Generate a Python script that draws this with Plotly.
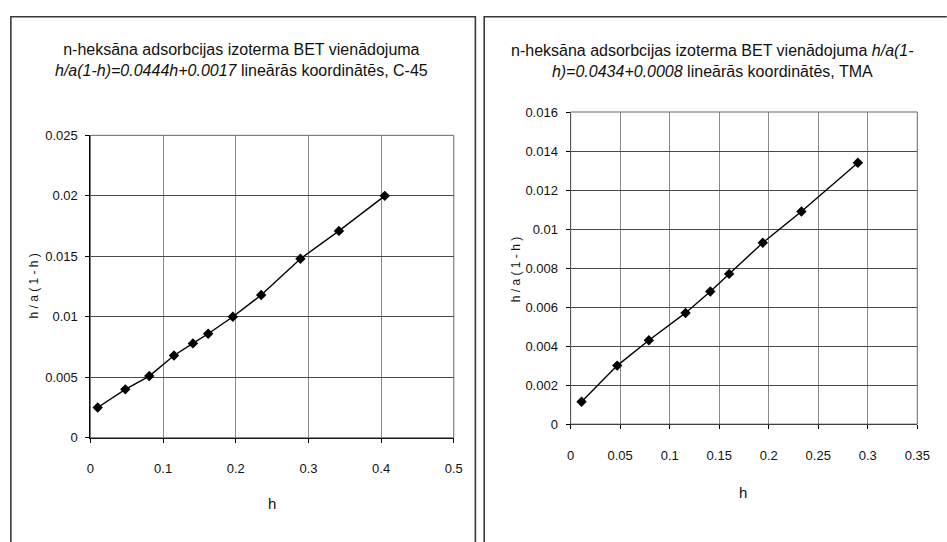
import plotly.graph_objects as go

# ---- data ----
left_h = [0.010, 0.048, 0.081, 0.115, 0.141, 0.162, 0.196, 0.235, 0.289, 0.342, 0.405]
left_y = [0.0025, 0.0040, 0.0051, 0.0068, 0.0078, 0.0086, 0.0100, 0.0118, 0.0148, 0.0171, 0.0200]

right_h = [0.011, 0.047, 0.079, 0.116, 0.141, 0.160, 0.194, 0.233, 0.290]
right_y = [0.00115, 0.0030, 0.0043, 0.0057, 0.0068, 0.0077, 0.0093, 0.0109, 0.0134]

left_title = ("n-heksāna adsorbcijas izoterma BET vienādojuma<br>"
              "<i>h/a(1-h)=0.0444h+0.0017</i> lineārās koordinātēs, C-45")
right_title = ("n-heksāna adsorbcijas izoterma BET vienādojuma <i>h/a(1-</i><br>"
               "<i>h)=0.0434+0.0008</i> lineārās koordinātēs, TMA")
x_label = "h"
y_label = "h / a ( 1 - h )"

W, H = 947, 542
FONT = "Liberation Sans, Arial, sans-serif"


def px(x):
    return x / W


def py(y):
    return 1 - y / H


fig = go.Figure()
fig.add_trace(go.Scatter(x=left_h, y=left_y, mode="lines+markers",
                         line=dict(color="black", width=1.4),
                         marker=dict(symbol="diamond", size=8, color="black"),
                         xaxis="x", yaxis="y", showlegend=False))
fig.add_trace(go.Scatter(x=right_h, y=right_y, mode="lines+markers",
                         line=dict(color="black", width=1.4),
                         marker=dict(symbol="diamond", size=8, color="black"),
                         xaxis="x2", yaxis="y2", showlegend=False))

ax_common = dict(showline=True, linecolor="black", linewidth=1.2, mirror=False,
                 ticks="outside", ticklen=4, tickcolor="black",
                 tickfont=dict(family=FONT, size=13, color="#111"),
                 zeroline=False, showgrid=True)

fig.update_layout(
    width=W, height=H,
    margin=dict(l=0, r=0, t=0, b=0),
    paper_bgcolor="white", plot_bgcolor="white",
    font=dict(family=FONT, color="#111"),
    xaxis=dict(domain=[px(88), px(458)], range=[0, 0.5], dtick=0.1, tick0=0,
               anchor="y", gridcolor="#8a8a8a", gridwidth=1,
               ticklabelstandoff=15, **ax_common),
    yaxis=dict(domain=[py(443), py(132)], range=[0, 0.025], dtick=0.005, tick0=0,
               anchor="x", gridcolor="#4a4a4a", gridwidth=1.3,
               ticklabelstandoff=5, **ax_common),
    xaxis2=dict(domain=[px(577), px(930)], range=[0, 0.35], dtick=0.05, tick0=0,
                anchor="y2", gridcolor="#8a8a8a", gridwidth=1,
                ticklabelstandoff=15, **ax_common),
    yaxis2=dict(domain=[py(429), py(108)], range=[0, 0.016], dtick=0.002, tick0=0,
                anchor="x2", gridcolor="#4a4a4a", gridwidth=1.3,
                ticklabelstandoff=5, **ax_common),
)


def path(points):
    return "M " + " L ".join(f"{px(x):.5f},{py(y):.5f}" for x, y in points)


shapes = [
    # panel frames (they run off the bottom / right of the picture)
    dict(type="path", xref="paper", yref="paper",
         path=path([(7, 560), (7, 10), (480, 10), (480, 560)]),
         line=dict(color="#3a3a3a", width=1.6)),
    dict(type="path", xref="paper", yref="paper",
         path=path([(489, 560), (489, 10), (960, 10)]),
         line=dict(color="#3a3a3a", width=1.6)),
    # plot area borders (top/right)
    dict(type="rect", xref="x domain", yref="y domain", x0=0, x1=1, y0=0, y1=1,
         line=dict(color="#666", width=1)),
    dict(type="rect", xref="x2 domain", yref="y2 domain", x0=0, x1=1, y0=0, y1=1,
         line=dict(color="#666", width=1)),
]
fig.update_layout(shapes=shapes)

common_ann = dict(xref="paper", yref="paper", showarrow=False,
                  xanchor="center", yanchor="middle")
ann = [
    dict(text=left_title, x=px(242), y=py(55), align="center",
         font=dict(family=FONT, size=16, color="#111"), **common_ann),
    dict(text=right_title, x=px(721), y=py(56), align="center",
         font=dict(family=FONT, size=16, color="#111"), **common_ann),
    dict(text=x_label, x=px(273), y=py(511),
         font=dict(family=FONT, size=15, color="#111"), **common_ann),
    dict(text=x_label, x=px(753), y=py(499),
         font=dict(family=FONT, size=15, color="#111"), **common_ann),
    dict(text=y_label, x=px(31), y=py(287), textangle=-90,
         font=dict(family=FONT, size=12, color="#111"), **common_ann),
    dict(text=y_label, x=px(521), y=py(270), textangle=-90,
         font=dict(family=FONT, size=12, color="#111"), **common_ann),
]
fig.update_layout(annotations=ann)

fig.write_html(
    "out.html",
    config={"displayModeBar": False},
    post_script="document.body.style.margin='0';document.body.style.overflow='hidden';",
)
